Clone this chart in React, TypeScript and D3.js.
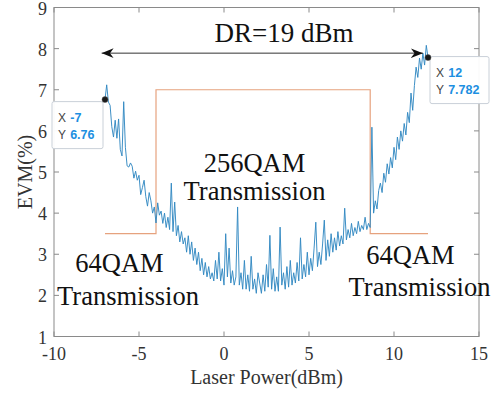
import React from 'react';
import * as d3 from 'd3';

// EVM readings, laser power -7..12 dBm in 0.1 dBm steps
const powerStart = -7;
const powerStep = 0.1;
const evm = [
  6.76, 7.12, 6.70, 6.62, 6.10, 5.85, 6.26, 5.82, 6.29, 5.55, 5.39, 6.71, 5.60, 5.15, 5.12, 5.22,
  5.14, 4.85, 5.02, 4.80, 4.92, 4.45, 4.62, 4.80, 4.40, 4.17, 4.50, 4.30, 4.00, 4.15, 3.76,
  4.25, 3.95, 4.05, 3.75, 4.00, 3.65, 3.90, 3.60, 4.73, 3.55, 4.27, 3.45, 3.70, 3.30, 3.55,
  3.25, 3.40, 3.05, 3.45, 3.00, 3.30, 2.85, 3.15, 2.75, 3.05, 2.60, 2.90, 2.50, 2.80, 2.45,
  2.70, 2.40, 2.55, 2.35, 2.85, 2.40, 3.05, 2.35, 2.65, 2.25, 3.50, 2.45, 3.15, 2.30, 2.60,
  2.25, 2.45, 4.15, 2.25, 2.55, 2.15, 2.85, 2.15, 2.50, 2.10, 2.95, 2.15, 2.40, 2.05, 2.55,
  2.30, 2.05, 2.50, 2.10, 2.75, 2.20, 3.46, 2.15, 2.65, 2.10, 2.45, 2.10, 3.66, 2.25, 2.55,
  2.15, 2.70, 2.20, 2.85, 2.25, 2.55, 2.30, 2.80, 2.35, 3.40, 2.40, 2.75, 2.45, 3.05, 2.50,
  2.90, 2.60, 3.15, 3.78, 2.70, 3.05, 2.75, 3.25, 3.83, 2.85, 3.35, 2.95, 3.50, 3.05, 3.40,
  3.10, 3.55, 3.20, 3.45, 3.25, 4.12, 3.35, 3.60, 3.40, 3.75, 3.45, 3.65, 3.50, 3.80, 3.55,
  3.70, 3.60, 3.90, 3.60, 3.75, 3.65,
  6.09, 4.00, 4.30, 4.10, 4.55, 4.73, 4.50, 4.97, 4.75, 5.20, 4.95, 5.35, 5.10, 5.60, 5.30,
  5.85, 5.55, 6.00, 5.75, 6.18, 5.90, 6.45, 6.20, 6.92, 6.50, 7.10, 7.55, 7.30, 7.77, 7.50,
  7.89, 7.60, 8.08, 7.782,
];

// modulation threshold step (x in dBm, y in EVM %)
const stepX = [-7, -4, -4, 8.6, 8.6, 12];
const stepY = [3.5, 3.5, 7, 7, 3.5, 3.5];

const xTicks = [-10, -5, 0, 5, 10, 15];
const yTicks = [1, 2, 3, 4, 5, 6, 7, 8, 9];

const tips = [
  { x: -7, y: 6.76, label: '6.76', side: 'left' },
  { x: 12, y: 7.782, label: '7.782', side: 'right' },
];

const W = 496;
const H = 395;
const margin = { top: 7.5, right: 17, bottom: 58.5, left: 54 };
const serif = '"Liberation Serif", "Times New Roman", serif';
const sans = '"Liberation Sans", Arial, sans-serif';

export default function App() {
  const x = d3.scaleLinear().domain([-10, 15]).range([margin.left, W - margin.right]);
  const y = d3.scaleLinear().domain([1, 9]).range([H - margin.bottom, margin.top]);

  const pts: [number, number][] = evm.map((v, i) => [powerStart + i * powerStep, v]);
  const line = d3.line<[number, number]>().x(d => x(d[0])).y(d => y(d[1]));
  const stepPts: [number, number][] = stepX.map((v, i) => [v, stepY[i]]);

  const x0 = x(-10), x1 = x(15), y0 = y(1), y1 = y(9);
  const axisColor = '#8a8a8a';
  const tick = 5;
  const arrowY = y(7.89);

  return (
    <svg width={W} height={H} style={{ position: 'absolute', left: 0, top: 0, background: '#fff' }}>
      <defs>
        <marker id="ah" viewBox="0 0 10 10" refX="10" refY="5" markerWidth="12" markerHeight="12"
          markerUnits="userSpaceOnUse" orient="auto-start-reverse">
          <path d="M0,1 L10,5 L0,9 L3,5 Z" fill="#111" />
        </marker>
      </defs>

      {/* box + ticks */}
      <rect x={x0} y={y1} width={x1 - x0} height={y0 - y1} fill="none" stroke={axisColor} strokeWidth={1} />
      {xTicks.map(t => (
        <g key={'xt' + t}>
          <line x1={x(t)} x2={x(t)} y1={y0} y2={y0 - tick} stroke={axisColor} />
          <line x1={x(t)} x2={x(t)} y1={y1} y2={y1 + tick} stroke={axisColor} />
          <text x={x(t)} y={y0 + 23} textAnchor="middle" fontFamily={serif} fontSize={18} fill="#333">{t}</text>
        </g>
      ))}
      {yTicks.map(t => (
        <g key={'yt' + t}>
          <line x1={x0} x2={x0 + tick} y1={y(t)} y2={y(t)} stroke={axisColor} />
          <line x1={x1} x2={x1 - tick} y1={y(t)} y2={y(t)} stroke={axisColor} />
          <text x={x0 - 7} y={y(t) + 7} textAnchor="end" fontFamily={serif} fontSize={18} fill="#333">{t}</text>
        </g>
      ))}

      <text x={(x0 + x1) / 2} y={384} textAnchor="middle" fontFamily={serif} fontSize={20} fill="#333">Laser Power(dBm)</text>
      <text transform={`translate(32,${(y0 + y1) / 2}) rotate(-90)`} textAnchor="middle" fontFamily={serif} fontSize={20} fill="#333">EVM(%)</text>

      {/* threshold step */}
      <path d={line(stepPts) || ''} fill="none" stroke="#e6a27e" strokeWidth={1.2} />
      {/* EVM curve */}
      <path d={line(pts) || ''} fill="none" stroke="#3389c2" strokeWidth={0.95} strokeLinejoin="round" />

      {/* dynamic range arrow */}
      <line x1={x(-7.2)} x2={x(11.7)} y1={arrowY} y2={arrowY} stroke="#333" strokeWidth={1}
        markerStart="url(#ah)" markerEnd="url(#ah)" />
      <text x={284} y={42} textAnchor="middle" fontFamily={serif} fontSize={27} fill="#111">DR=19 dBm</text>

      <g fontFamily={serif} fontSize={26.5} fill="#111" textAnchor="middle">
        <text x={254.5} y={172}>256QAM</text>
        <text x={254.5} y={200}>Transmission</text>
        <text x={119.5} y={272}>64QAM</text>
        <text x={128} y={305}>Transmission</text>
        <text x={410.5} y={264}>64QAM</text>
        <text x={419.5} y={296}>Transmission</text>
      </g>

      {/* data tips */}
      {tips.map(t => {
        const px = x(t.x), py = y(t.y);
        const bw = t.side === 'left' ? 51 : 59;
        const bx = t.side === 'left' ? px - 53 : px + 2;
        const by = t.side === 'left' ? py + 2 : py - 1;
        return (
          <g key={'tip' + t.x}>
            <rect x={bx} y={by} width={bw} height={47} rx={2} fill="#fff" fillOpacity={0.95} stroke="#c9d0d8" />
            <text x={bx + 6} y={by + 20} fontFamily={sans} fontSize={12} fill="#444">
              X <tspan dx={1} fill="#1d8fe1" fontWeight="bold" fontSize={12.5}>{t.x}</tspan>
            </text>
            <text x={bx + 6} y={by + 37} fontFamily={sans} fontSize={12} fill="#444">
              Y <tspan dx={1} fill="#1d8fe1" fontWeight="bold" fontSize={12.5}>{t.label}</tspan>
            </text>
            <circle cx={px} cy={py} r={3} fill="#1a1a1a" stroke="#555" strokeWidth={0.5} />
          </g>
        );
      })}
    </svg>
  );
}
